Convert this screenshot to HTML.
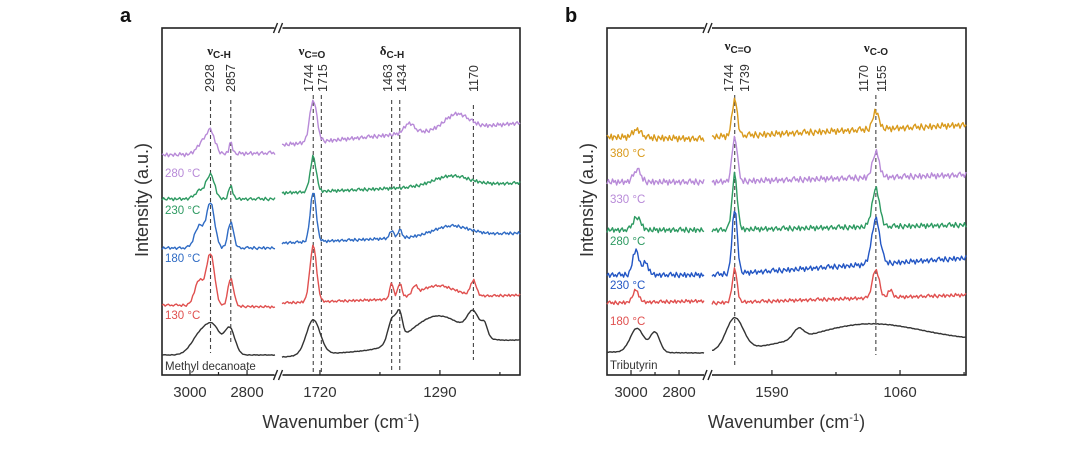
<!DOCTYPE html>
<html><head><meta charset="utf-8">
<style>
html,body{margin:0;padding:0;background:#fff;width:1080px;height:449px;overflow:hidden}
svg{display:block;font-family:"Liberation Sans",sans-serif}
</style></head>
<body>
<svg id="fig" width="1080" height="449" viewBox="0 0 1080 449"></svg>
<script>
// ---------- DATA ----------
const aSeg1 = [3098, 2702];
const aSeg2 = [1856, 1003];
const aTicks1 = [3000, 2800];
const aTicks2 = [1720, 1290];
const aMinor1 = [2900];
const aMinor2 = [1505, 1075];
const aLabels = ["280 °C", "230 °C", "180 °C", "130 °C", "Methyl decanoate"];
const aColors = ["#b88ad8", "#2e9a62", "#2f6bc4", "#e0504f", "#333333"];
const aNoise = [2.0, 1.6, 1.4, 1.2, 0.3];
const aBase = [[220,222,230,252],[176,176,182,192],[127,127,132,142],[70,68,72,80],[20,20,18,35]];
const aPeaks = [
 [[2928,22,22],[2960,10,25],[2857,12,8],[1744,42,18],[1400,10,25],[1230,15,60]],
 [[2928,24,20],[2965,8,25],[2857,13,10],[1744,35,15],[1250,10,90]],
 [[2928,45,20],[2968,22,22],[2857,26,14],[1744,50,15],[1463,8,10],[1434,8,10],[1250,10,90]],
 [[2928,52,20],[2968,25,22],[2857,28,14],[1744,56,17],[1463,15,10],[1434,15,10],[1300,12,90],[1380,8,12],[1170,15,14]],
 [[2960,22,45],[2915,22,35],[2860,26,25],[1744,35,35],[1460,25,22],[1434,22,14],[1300,30,130],[1170,22,30],[1130,12,15]]
];
const bSeg1 = [3100, 2696];
const bSeg2 = [1838, 787];
const bTicks1 = [3000, 2800];
const bTicks2 = [1590, 1060];
const bMinor1 = [2900];
const bMinor2 = [1325, 795];
const bLabels = ["380 °C", "330 °C", "280 °C", "230 °C", "180 °C", "Tributyrin"];
const bColors = ["#d99a1c", "#b88ad8", "#2e9a62", "#2356c4", "#e0504f", "#333333"];
const bNoise = [3.2, 3.0, 2.6, 2.6, 1.8, 0.3];
const bBase = [[238,236,238,250],[193,193,193,200],[145,145,145,150],[100,100,100,117],[72,74,72,80],[23,22,23,33]];
const bPeaks = [
 [[2975,8,25],[1744,37,15],[1160,18,18]],
 [[2975,12,22],[1744,45,15],[1160,25,20]],
 [[2975,13,22],[1744,55,15],[1160,38,22]],
 [[2980,25,18],[2940,12,18],[1744,65,15],[1160,45,24]],
 [[2980,12,18],[1744,33,14],[1160,28,20],[1100,8,12]],
 [[2975,24,40],[2900,20,28],[1744,32,50],[1200,22,330],[1480,10,30]]
];
// fixed jitter pattern (spectral noise texture)
const jitter = [0.3,-0.8,1.0,-0.2,-1.0,0.6,0.1,-0.5,0.9,-0.9,0.4,0.2,-0.7,0.8,-0.3,-0.6,1.0,-0.1,0.5,-1.0,0.7,-0.4,0.0,0.9,-0.8,0.3,-0.2,0.6,-0.9,0.2,0.8,-0.5,0.1,-0.7,0.5,1.0,-0.3];

// ---------- DRAW ----------
const NS = "http://www.w3.org/2000/svg";
const fig = document.getElementById('fig');
function el(tag, attrs, parent){const e=document.createElementNS(NS,tag);for(const k in attrs)e.setAttribute(k,attrs[k]);(parent||fig).appendChild(e);return e;}
const Y0 = 375;
function yS(v){return Y0 - v;}

function panel(cfg){
  const g = el('g',{});
  
  
  const s1 = cfg.s1, s2 = cfg.s2;
  function x1(w){return s1.px[0] + (s1.w[0]-w)/(s1.w[0]-s1.w[1])*(s1.px[1]-s1.px[0]);}
  function x2(w){return s2.px[0] + (s2.w[0]-w)/(s2.w[0]-s2.w[1])*(s2.px[1]-s2.px[0]);}
  function xw(w){return w > 2500 ? x1(w) : x2(w);}
  const fr = el('rect',{x:cfg.fx0,y:28,width:cfg.fx1-cfg.fx0,height:Y0-28,fill:'none',stroke:'#222','stroke-width':1.6},g);
   
  const bx = (s1.px[1]+s2.px[0])/2;
  el('rect',{x:bx-4,y:24,width:8,height:8,fill:'#fff'},g);
  el('rect',{x:bx-4,y:Y0-4,width:8,height:8,fill:'#fff'},g);
  [28,Y0].forEach(yy=>{
    [-3,2].forEach(d=>{
      const b = el('line',{x1:bx+d-2,y1:yy+5,x2:bx+d+2,y2:yy-5,stroke:'#222','stroke-width':1.4},g);
       
    });
  });
  function tick(x,major,label){
    el('line',{x1:x,y1:Y0,x2:x,y2:Y0-(major?5:3),stroke:'#222','stroke-width':1.2},g);
    if(label!==undefined){
      const t = el('text',{x:x,y:Y0+22,'text-anchor':'middle','font-size':15,fill:'#333'},g);
      t.textContent = label;
       
    }
  }
  cfg.t1.forEach(w=>tick(x1(w),true,w)); cfg.m1.forEach(w=>tick(x1(w),false));
  cfg.t2.forEach(w=>tick(x2(w),true,w)); cfg.m2.forEach(w=>tick(x2(w),false));
  const xt = el('text',{x:(cfg.fx0+cfg.fx1)/2,y:428,'text-anchor':'middle','font-size':18,fill:'#333'},g);
  xt.innerHTML = 'Wavenumber (cm<tspan font-size="11" dy="-7">-1</tspan><tspan dy="7">)</tspan>';
   
  const yt = el('text',{x:0,y:0,'text-anchor':'middle','font-size':18,fill:'#333',transform:`translate(${cfg.fx0-14},200) rotate(-90)`},g);
  yt.textContent = 'Intensity (a.u.)';
   
  const pl = el('text',{x:cfg.fx0-42,y:22,'font-size':20,'font-weight':'bold',fill:'#111'},g);
  pl.textContent = cfg.letter;
   
  cfg.refs.forEach(r=>{
    const l = el('line',{x1:xw(r[0]),y1:r[1],x2:xw(r[0]),y2:r[2],stroke:'#444','stroke-width':1.1,'stroke-dasharray':'4,3'},g);
     
  });
  cfg.base.forEach((bs,i)=>{
    const pk = cfg.peaks[i];
    const amp = cfg.noise[i];
    function val(w,seg){
      let b;
      if(seg===1){const f=(s1.w[0]-w)/(s1.w[0]-s1.w[1]); b=bs[0]+(bs[1]-bs[0])*f;}
      else {const f=(s2.w[0]-w)/(s2.w[0]-s2.w[1]); b=bs[2]+(bs[3]-bs[2])*f;}
      pk.forEach(p=>{b+=p[1]*Math.exp(-Math.pow((w-p[0])/p[2],2));});
      return b;
    }
    [[1,s1],[2,s2]].forEach(([sn,s])=>{
      let d='';
      const N = sn===1?70:170;
      for(let k=0;k<=N;k++){
        const w = s.w[0]+(s.w[1]-s.w[0])*k/N;
        const x = sn===1?x1(w):x2(w);
        const j = amp*jitter[(k+i*7+sn*5)%jitter.length];
        d += (k?'L':'M')+x.toFixed(1)+','+yS(val(w,sn)+j).toFixed(1);
      }
      const p = el('path',{d:d,fill:'none',stroke:cfg.colors[i],'stroke-width':1.4,'stroke-linejoin':'round'},g);
      
      
    });
    const lb = el('text',{x:cfg.fx0+3,y:cfg.labY[i],'font-size':11.5,fill:cfg.colors[i]},g);
    lb.textContent = cfg.labels[i];
     
  });
  cfg.ann.forEach(a=>{
    const t = el('text',{x:a[0],y:a[1],'text-anchor':'middle','font-size':13,'font-weight':'bold','font-family':'Liberation Serif, serif',fill:'#222'},g);
    t.innerHTML = a[2]+'<tspan font-size="10" dy="3" font-family="Liberation Sans, sans-serif">'+a[3]+'</tspan>';
     
  });
  cfg.nums.forEach(n=>{
    const t = el('text',{x:0,y:0,'font-size':12.5,fill:'#333',transform:`translate(${n[0]+4},92) rotate(-90)`},g);
    t.textContent = n[1];
     
  });
}

panel({name:'panel-a',letter:'a',fx0:162,fx1:520,
  s1:{w:aSeg1,px:[162,275]}, s2:{w:aSeg2,px:[282,520]},
  t1:aTicks1,m1:aMinor1,t2:aTicks2,m2:aMinor2,
  base:aBase,peaks:aPeaks,colors:aColors,labels:aLabels,noise:aNoise,
  labY:[177,214,262,319,370],
  refs:[[2928,100,353],[2857,100,345],[1744,95,372],[1715,95,372],[1463,100,372],[1434,100,372],[1170,105,360]],
  ann:[[219,55,'ν','C-H'],[312,55,'ν','C=O'],[392,55,'δ','C-H']],
  nums:[[210,'2928'],[231,'2857'],[309,'1744'],[323,'1715'],[388,'1463'],[402,'1434'],[474,'1170']]
});
panel({name:'panel-b',letter:'b',fx0:607,fx1:966,
  s1:{w:bSeg1,px:[607,704]}, s2:{w:bSeg2,px:[712,966]},
  t1:bTicks1,m1:bMinor1,t2:bTicks2,m2:bMinor2,
  base:bBase,peaks:bPeaks,colors:bColors,labels:bLabels,noise:bNoise,
  labY:[157,203,245,289,325,369],
  refs:[[1744,95,367],[1160,95,355]],
  ann:[[738,50,'ν','C=O'],[876,52,'ν','C-O']],
  nums:[[729,'1744'],[745,'1739'],[864,'1170'],[882,'1155']]
});
</script>
</body></html>
